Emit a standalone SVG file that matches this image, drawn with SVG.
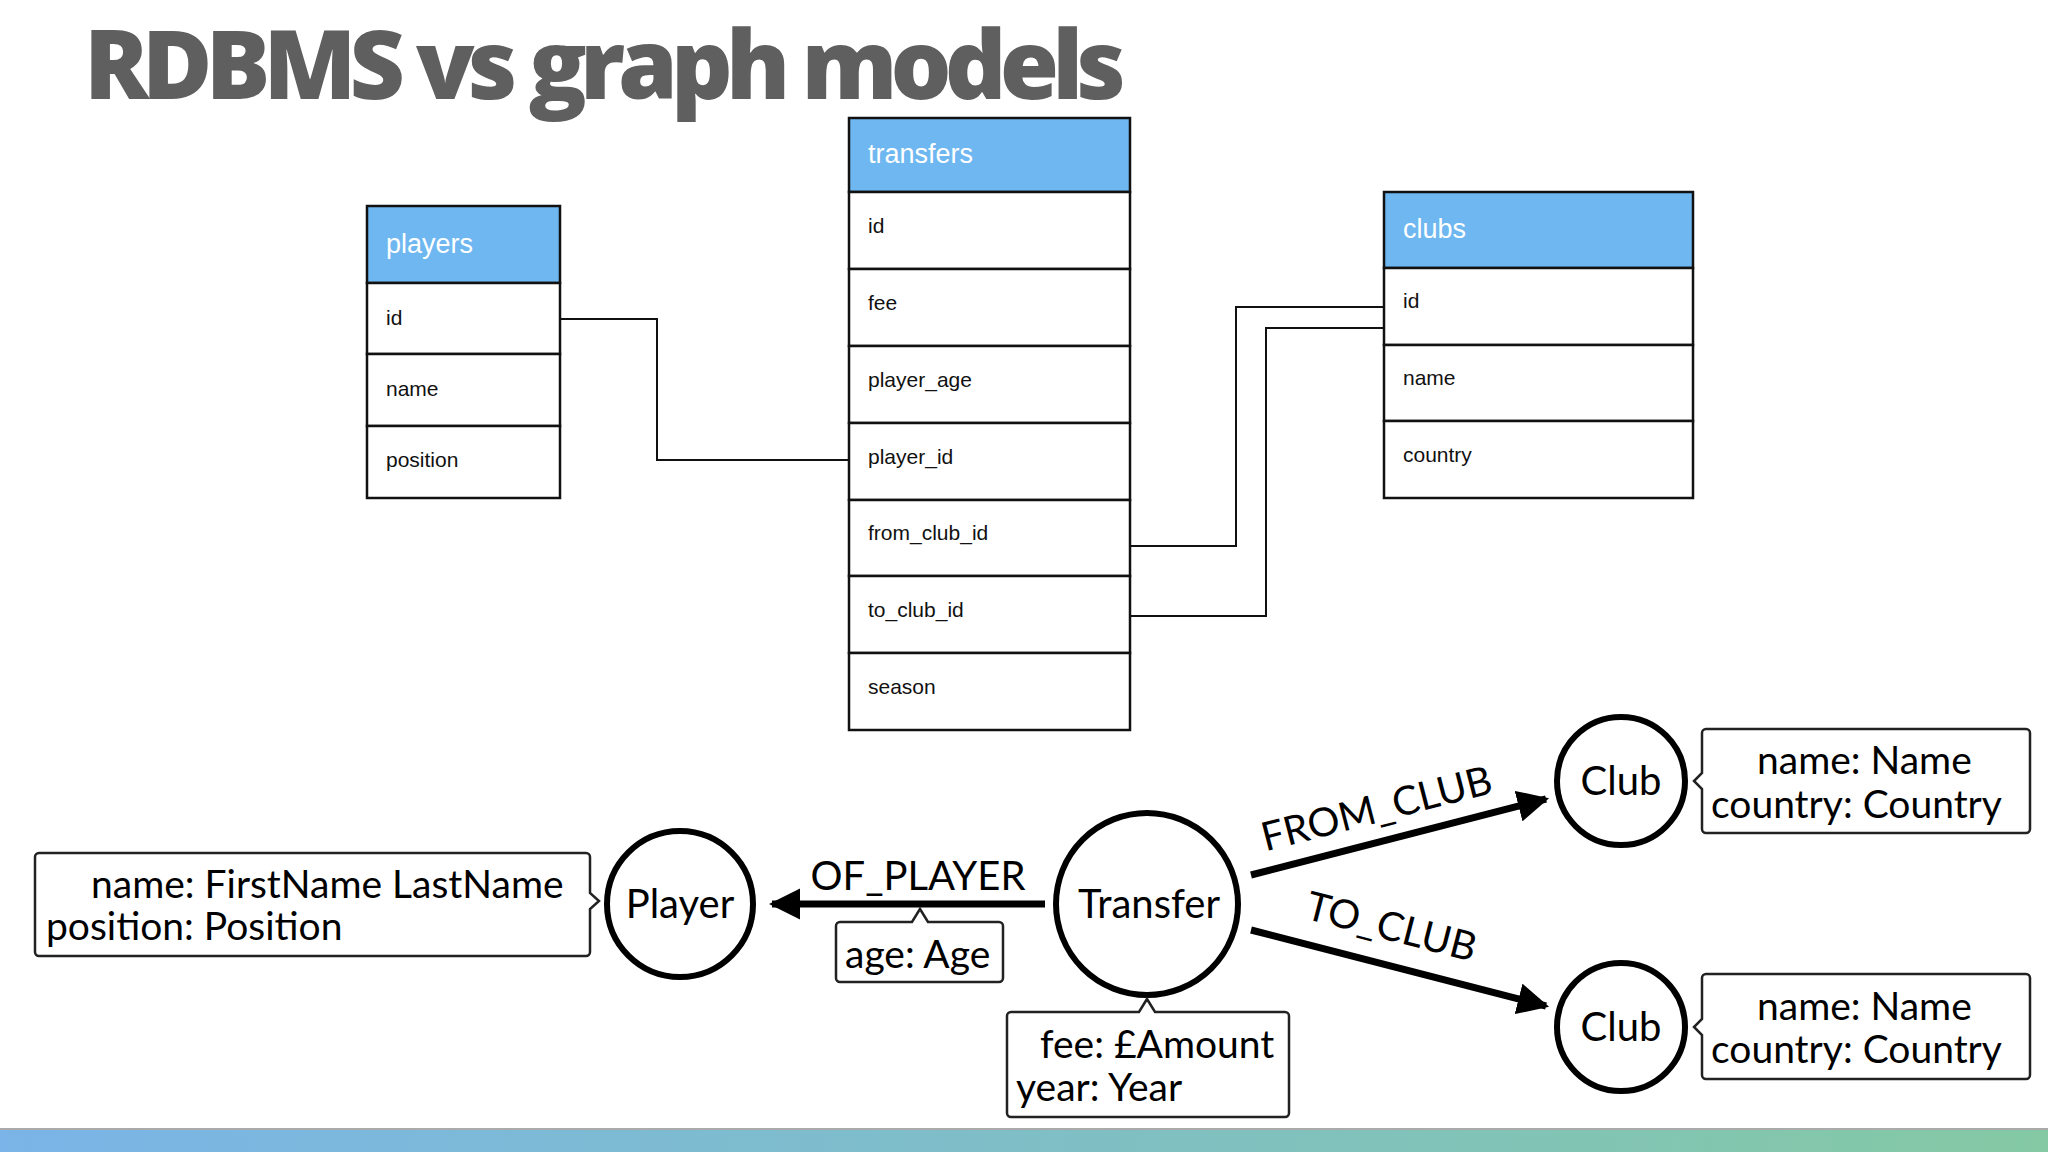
<svg xmlns="http://www.w3.org/2000/svg" width="2048" height="1152" viewBox="0 0 2048 1152">
<defs>
<style>
.hd{fill:#6EB7F0;stroke:#111;stroke-width:2.5}
.rw{fill:#fff;stroke:#111;stroke-width:2.5}
.ht{font-family:"Liberation Sans",Arial,sans-serif;font-size:27px;fill:#fff}
.rt{font-family:"Liberation Sans",Arial,sans-serif;font-size:21px;fill:#111}
.cn{fill:none;stroke:#111;stroke-width:2}
.nd{fill:#fff;stroke:#000;stroke-width:6}
.nt{font-family:Lato,"Open Sans",sans-serif;font-size:40px;fill:#000;text-anchor:middle}
.pb{fill:#fff;stroke:#222;stroke-width:2.5}
.pt{font-family:Lato,"Open Sans",sans-serif;font-size:39px;fill:#000}
.ed{stroke:#000;stroke-width:7;fill:none}
</style>
<marker id="ah" viewBox="0 0 10 10" refX="9" refY="5" markerWidth="4.5" markerHeight="4.5" orient="auto" markerUnits="strokeWidth"><path d="M0,0L10,5L0,10z" fill="#000"/></marker>
<linearGradient id="bar" x1="0" x2="1"><stop offset="0" stop-color="#7AB4E8"/><stop offset="1" stop-color="#84C9A4"/></linearGradient>
</defs>
<rect width="2048" height="1152" fill="#fff"/>
<text x="84" y="99" font-family="'Open Sans',sans-serif" font-weight="800" font-size="96" fill="#5f5f5f" textLength="1042">RDBMS vs graph models</text>

<g id="players">
<rect class="hd" x="367" y="206" width="193" height="77"/><text class="ht" x="386" y="253">players</text>
<rect class="rw" x="367" y="283" width="193" height="71"/><text class="rt" x="386" y="325">id</text>
<rect class="rw" x="367" y="354" width="193" height="72"/><text class="rt" x="386" y="396">name</text>
<rect class="rw" x="367" y="426" width="193" height="72"/><text class="rt" x="386" y="467">position</text>
</g>
<g id="transfers">
<rect class="hd" x="849" y="118" width="281" height="74"/><text class="ht" x="868" y="163">transfers</text>
<rect class="rw" x="849" y="192" width="281" height="77"/><text class="rt" x="868" y="233">id</text>
<rect class="rw" x="849" y="269" width="281" height="77"/><text class="rt" x="868" y="310">fee</text>
<rect class="rw" x="849" y="346" width="281" height="77"/><text class="rt" x="868" y="387">player_age</text>
<rect class="rw" x="849" y="423" width="281" height="77"/><text class="rt" x="868" y="464">player_id</text>
<rect class="rw" x="849" y="500" width="281" height="76"/><text class="rt" x="868" y="540">from_club_id</text>
<rect class="rw" x="849" y="576" width="281" height="77"/><text class="rt" x="868" y="617">to_club_id</text>
<rect class="rw" x="849" y="653" width="281" height="77"/><text class="rt" x="868" y="694">season</text>
</g>
<g id="clubs">
<rect class="hd" x="1384" y="192" width="309" height="76"/><text class="ht" x="1403" y="238">clubs</text>
<rect class="rw" x="1384" y="268" width="309" height="77"/><text class="rt" x="1403" y="308">id</text>
<rect class="rw" x="1384" y="345" width="309" height="76"/><text class="rt" x="1403" y="385">name</text>
<rect class="rw" x="1384" y="421" width="309" height="77"/><text class="rt" x="1403" y="462">country</text>
</g>
<g id="connectors">
<polyline class="cn" points="560,319 657,319 657,460 849,460"/>
<polyline class="cn" points="1130,546 1236,546 1236,307 1384,307"/>
<polyline class="cn" points="1130,616 1266,616 1266,328 1384,328"/>
<line class="ed" x1="1045" y1="904" x2="772" y2="904" marker-end="url(#ah)"/>
<line class="ed" x1="1251" y1="875" x2="1546" y2="799" marker-end="url(#ah)"/>
<line class="ed" x1="1251" y1="930" x2="1546" y2="1006" marker-end="url(#ah)"/>
<text class="nt" x="918" y="890">OF_PLAYER</text>
<text class="nt" transform="translate(1380,822) rotate(-14.5)" x="0" y="0">FROM_CLUB</text>
<text class="nt" transform="translate(1388,940) rotate(14.5)" x="0" y="0">TO_CLUB</text>
</g>
<g id="player-props">
<path class="pb" d="M39,853H586a4,4 0 0 1 4,4V893l9,8-9,8V952a4,4 0 0 1-4,4H39a4,4 0 0 1-4-4V857a4,4 0 0 1 4-4z"/>
<text class="pt" x="91" y="898">name: FirstName LastName</text>
<text class="pt" x="46" y="940">position: Position</text>
</g>
<g id="player"><circle class="nd" cx="680" cy="904" r="73"/><text class="nt" x="680" y="918">Player</text></g>
<g id="age-props">
<path class="pb" d="M840,922H912l8-13 8,13H999a4,4 0 0 1 4,4V978a4,4 0 0 1-4,4H840a4,4 0 0 1-4-4V926a4,4 0 0 1 4-4z"/>
<text class="pt" x="845" y="968">age: Age</text>
</g>
<g id="transfer"><circle class="nd" cx="1147" cy="904" r="91"/><text class="nt" x="1149" y="918">Transfer</text></g>
<g id="transfer-props">
<path class="pb" d="M1011,1012H1139l8-13 8,13H1285a4,4 0 0 1 4,4V1113a4,4 0 0 1-4,4H1011a4,4 0 0 1-4-4V1016a4,4 0 0 1 4-4z"/>
<text class="pt" x="1040" y="1058">fee: £Amount</text>
<text class="pt" x="1016" y="1101">year: Year</text>
</g>
<g id="club1"><circle class="nd" cx="1621" cy="781" r="64"/><text class="nt" x="1621" y="795">Club</text></g>
<g id="club1-props">
<path class="pb" d="M1706,729H2026a4,4 0 0 1 4,4V829a4,4 0 0 1-4,4H1706a4,4 0 0 1-4-4V789l-8-8 8-8V733a4,4 0 0 1 4-4z"/>
<text class="pt" x="1757" y="774">name: Name</text>
<text class="pt" x="1711" y="818">country: Country</text>
</g>
<g id="club2"><circle class="nd" cx="1621" cy="1027" r="64"/><text class="nt" x="1621" y="1041">Club</text></g>
<g id="club2-props">
<path class="pb" d="M1706,974H2026a4,4 0 0 1 4,4V1075a4,4 0 0 1-4,4H1706a4,4 0 0 1-4-4V1035l-8-8 8-8V978a4,4 0 0 1 4-4z"/>
<text class="pt" x="1757" y="1020">name: Name</text>
<text class="pt" x="1711" y="1063">country: Country</text>
</g>
<rect x="0" y="1128" width="2048" height="2" fill="#aaa"/>
<rect x="0" y="1130" width="2048" height="22" fill="url(#bar)"/>
</svg>
